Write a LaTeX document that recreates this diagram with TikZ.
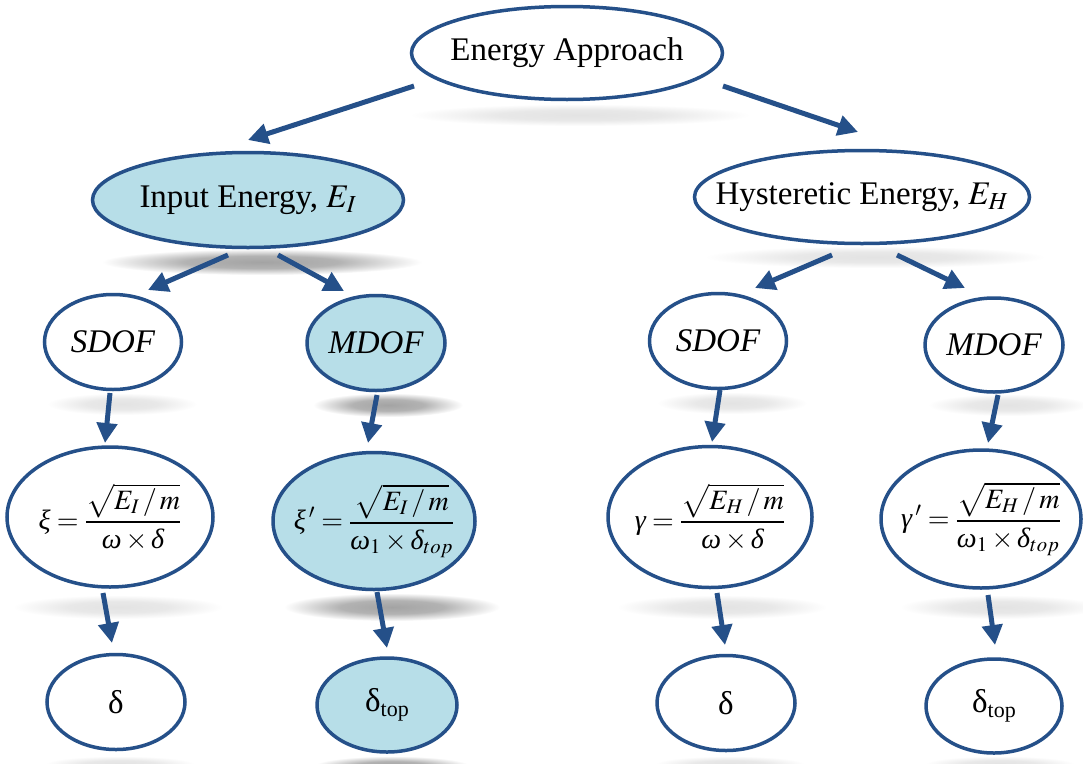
\documentclass[tikz,border=0pt]{standalone}
\usepackage{mathptmx}
\usepackage[no-math]{fontspec}
\setmainfont{Liberation Serif}
\usetikzlibrary{shapes.geometric,arrows.meta,calc}
\definecolor{edge}{RGB}{37,80,137}
\definecolor{lightb}{RGB}{183,222,232}
\newcommand\zw[1]{\makebox[0pt][c]{#1}}
\newcommand\ig[1]{\mbox{\itshape #1}}
\pgfdeclareradialshading{shdark}{\pgfpointorigin}{color(0bp)=(black!36); color(12bp)=(black!30); color(25bp)=(white); color(50bp)=(white)}
\pgfdeclareradialshading{shlight}{\pgfpointorigin}{color(0bp)=(black!11); color(12bp)=(black!9); color(25bp)=(white); color(50bp)=(white)}
\tikzset{
 ell/.style={ellipse, draw=edge, line width=3.5pt, fill=white, inner sep=0pt, outer sep=0pt, font=\fontsize{33}{40}\selectfont},
 hl/.style={fill=lightb},
 frm/.style={font=\fontsize{28}{34}\selectfont},
 arr/.style={draw=edge, line width=5pt, -{Triangle[length=20pt,width=20pt]}},
 shd/.style={shading=shdark},
 shl/.style={shading=shlight},
}
\begin{document}
\begin{tikzpicture}[x=1pt,y=-1pt]
\useasboundingbox[fill=white] (0,0) rectangle (1083,763);
% shadows
\shade[shl] (580,115) ellipse [x radius=170, y radius=11];
\shade[shd] (262,262) ellipse [x radius=160, y radius=13];
\shade[shl] (875,257) ellipse [x radius=170, y radius=11];
\shade[shl] (122,404) ellipse [x radius=75, y radius=11];
\shade[shd] (388,405) ellipse [x radius=75, y radius=12];
\shade[shl] (732,403) ellipse [x radius=75, y radius=11];
\shade[shl] (1008,405) ellipse [x radius=80, y radius=11];
\shade[shl] (118,607) ellipse [x radius=105, y radius=12];
\shade[shd] (392,607) ellipse [x radius=108, y radius=14];
\shade[shl] (722,607) ellipse [x radius=105, y radius=12];
\shade[shl] (1000,607) ellipse [x radius=100, y radius=12];
\shade[shl] (120,764) ellipse [x radius=75, y radius=8];
\shade[shd] (392,766) ellipse [x radius=78, y radius=10];
\shade[shl] (730,764) ellipse [x radius=75, y radius=8];
\shade[shl] (1000,764) ellipse [x radius=75, y radius=8];
% nodes
\node[ell, minimum width=311pt, minimum height=93pt] (EA) at (567,53) {\zw{Energy Approach}};
\node[ell, hl, minimum width=311pt, minimum height=95pt] (IE) at (248,200) {\zw{Input Energy, $E_I$}};
\node[ell, minimum width=335pt, minimum height=93pt] (HE) at (862,197) {\zw{Hysteretic Energy, $E_H$}};
\node[ell, minimum width=137pt, minimum height=95pt] (SL) at (113,342) {\zw{\itshape SDOF}};
\node[ell, hl, minimum width=138pt, minimum height=95pt] (ML) at (376,343) {\zw{\itshape MDOF}};
\node[ell, minimum width=137pt, minimum height=95pt] (SR) at (718,341) {\zw{\itshape SDOF}};
\node[ell, minimum width=138pt, minimum height=94pt] (MR) at (994,345) {\zw{\itshape MDOF}};
\node[ell, frm, minimum width=206pt, minimum height=140pt] (FL) at (110,517) {\zw{$\displaystyle \ig{ξ}=\frac{\sqrt{E_I\,/\,m}}{\ig{ω}\times\ig{δ}}$}};
\node[ell, frm, hl, minimum width=202pt, minimum height=137pt] (FML) at (374,521) {\zw{$\displaystyle \ig{ξ}\,'=\frac{\sqrt{E_I\,/\,m}}{\ig{ω}_1\times\ig{δ}_{top}}$}};
\node[ell, frm, minimum width=204pt, minimum height=141pt] (FR) at (710,517) {\zw{$\displaystyle \ig{γ}=\frac{\sqrt{E_H\,/\,m}}{\ig{ω}\times\ig{δ}}$}};
\node[ell, frm, minimum width=200pt, minimum height=138pt] (FMR) at (981,519) {\zw{$\displaystyle \ig{γ}\,'=\frac{\sqrt{E_H\,/\,m}}{\ig{ω}_1\times\ig{δ}_{top}}$}};
\node[ell, minimum width=138pt, minimum height=95pt] (BL) at (116,702) {\zw{δ}};
\node[ell, hl, minimum width=140pt, minimum height=94pt] (BML) at (387,705) {\zw{δ\raisebox{-0.3ex}{\fontsize{22}{26}\selectfont top}}};
\node[ell, minimum width=138pt, minimum height=95pt] (BR) at (726,703) {\zw{δ}};
\node[ell, minimum width=136pt, minimum height=94pt] (BMR) at (994,706) {\zw{δ\raisebox{-0.3ex}{\fontsize{22}{26}\selectfont top}}};
% arrows
\draw[arr] ($(EA)+(-153,33)$) -- ($(IE)+(0,-60)$);
\draw[arr] ($(EA)+(156,33)$) -- ($(HE)+(-4,-65)$);
\draw[arr] ($(IE)+(-20,55)$) -- ($(SL)+(35,-52)$);
\draw[arr] ($(IE)+(30,55)$) -- ($(ML)+(-32,-52)$);
\draw[arr] ($(HE)+(-30,58)$) -- ($(SR)+(37,-53)$);
\draw[arr] ($(HE)+(35,58)$) -- ($(MR)+(-29,-57)$);
\draw[arr] ($(SL)+(-3,51)$) -- ($(FL)+(-5,-74)$);
\draw[arr] ($(ML)+(1,52)$) -- ($(FML)+(-6,-78)$);
\draw[arr] ($(SR)+(2,49)$) -- ($(FR)+(2,-75)$);
\draw[arr] ($(MR)+(4,50)$) -- ($(FMR)+(7,-76)$);
\draw[arr] ($(FL)+(-7,76)$) -- ($(BL)+(-4,-59)$);
\draw[arr] ($(FML)+(3,71)$) -- ($(BML)+(0,-57)$);
\draw[arr] ($(FR)+(7,76)$) -- ($(BR)+(-1,-58)$);
\draw[arr] ($(FMR)+(7,76)$) -- ($(BMR)+(1,-61)$);
\end{tikzpicture}
\end{document}
